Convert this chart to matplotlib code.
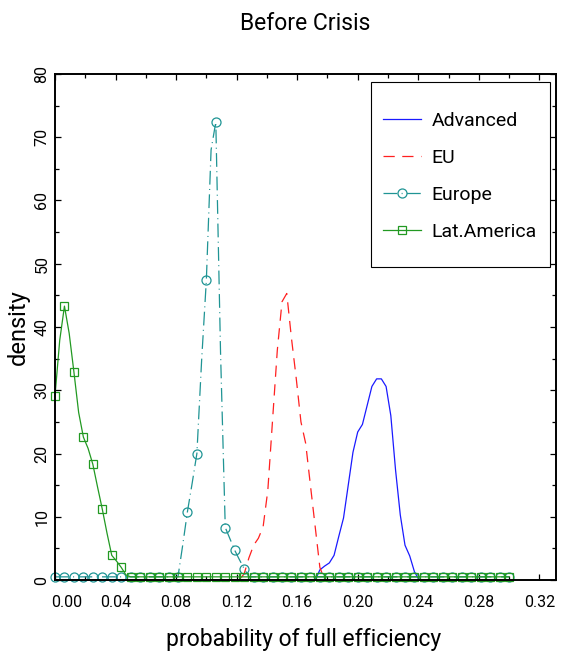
import numpy as np
import matplotlib
matplotlib.use("Agg")
import matplotlib.pyplot as plt
from matplotlib.legend_handler import HandlerLine2D
from matplotlib.patches import Rectangle
from matplotlib.ticker import MultipleLocator
from matplotlib.transforms import ScaledTranslation

plt.rcParams['font.family'] = ['Roboto', 'DejaVu Sans']

# evaluation grid for the densities (markers sit on every other point)
x = np.linspace(0.0, 0.3, 97)

advanced = [0.0] * 56 + [1.6, 2.2, 2.7, 3.9, 6.9, 9.8, 15.0, 20.2, 23.4, 24.6, 27.6,
                         30.6, 31.8, 31.8, 30.6, 26.0, 17.4, 10.3, 5.5, 3.8, 1.3] + [0.0] * 20
eu = [0.0] * 40 + [1.0, 3.5, 5.5, 6.6, 8.4, 14.2, 25.3, 36.3, 44.0, 45.3, 38.2,
                   31.9, 25.0, 21.6, 15.0, 8.5, 2.0] + [0.0] * 40
europe = [0.5] * 27 + [5.5, 10.8, 15.3, 20.0, 34.7, 47.4, 68.0, 72.4, 36.0,
                       8.3, 6.5, 4.7, 3.2, 1.8] + [0.5] * 56
lat_america = [29.1, 37.9, 43.3, 39.0, 32.9, 26.5, 22.6, 20.8, 18.3, 14.7, 11.2,
               7.4, 3.9, 3.0, 2.0, 0.8] + [0.5] * 81

labels = ["Advanced", "EU", "Europe", "Lat.America"]
colors = ["#1a1aff", "#ff2020", "#1f9494", "#229922"]
xticks = [0.00, 0.04, 0.08, 0.12, 0.16, 0.20, 0.24, 0.28, 0.32]


class LeftMarker(HandlerLine2D):
    # IDL style legend: symbol at the left end of the line sample
    def get_xdata(self, legend, xdescent, ydescent, width, height, fontsize):
        xdata = np.array([-xdescent, -xdescent + width])
        return xdata, np.array([-xdescent + 0.15 * width])


fig = plt.figure(figsize=(5.71, 6.6), dpi=100)
ax = fig.add_axes([0.0963, 0.1212, 0.8774, 0.7667])

l1, = ax.plot(x, advanced, color=colors[0], lw=0.9, clip_on=False)
l2, = ax.plot(x, eu, color=colors[1], lw=0.9, dashes=(9, 6), clip_on=False)
l3, = ax.plot(x, europe, color=colors[2], lw=0.9, dashes=(11, 3.5, 0.8, 3.5),
              marker='o', markevery=2, ms=6.5, mfc='none', mew=0.9, clip_on=False)
l4, = ax.plot(x, lat_america, color=colors[3], lw=0.9,
              marker='s', markevery=2, ms=6, mfc='none', mew=0.9, clip_on=False)

ax.set_xlim(0, 0.331)
ax.set_ylim(0, 80)
ax.set_xticks(xticks)
ax.set_xticklabels([f"{v:.2f}" for v in xticks])
ax.xaxis.set_minor_locator(MultipleLocator(0.02))
ax.yaxis.set_major_locator(MultipleLocator(10))
ax.yaxis.set_minor_locator(MultipleLocator(5))
ax.tick_params(which='both', direction='in', top=True, right=True, labelsize=11.5)
ax.tick_params(which='major', length=4.5, width=0.9)
ax.tick_params(which='minor', length=3, width=0.9)
ax.tick_params(axis='x', pad=11)
ax.tick_params(axis='y', pad=4)
for lab in ax.get_yticklabels():
    lab.set_rotation(90)
    lab.set_va('center')
# first x label is pushed off the y axis like in the original
first = ax.get_xticklabels()[0]
first.set_transform(first.get_transform() + ScaledTranslation(12 / 100, 0, fig.dpi_scale_trans))

for sp in ax.spines.values():
    sp.set_linewidth(1.4)

ax.set_title("Before Crisis", fontsize=16.5, pad=32)
ax.set_xlabel("probability of full efficiency", fontsize=16.5)
ax.set_ylabel("density", fontsize=17)
ax.xaxis.set_label_coords(0.497, -0.095)
ax.yaxis.set_label_coords(-0.05, 0.5)

# legend box
ax.add_patch(Rectangle((0.631, 0.619), 0.357, 0.365, transform=ax.transAxes,
                       facecolor='white', edgecolor='black', lw=0.8, zorder=4))
ax.legend([l1, l2, l3, l4], labels, loc='upper left', bbox_to_anchor=(0.655, 0.925),
          frameon=False, fontsize=14, borderpad=0, borderaxespad=0,
          handlelength=1.95, handletextpad=0.55, labelspacing=0.97,
          handler_map={l3: LeftMarker(), l4: LeftMarker()})

fig.savefig("out.png", dpi=100)
